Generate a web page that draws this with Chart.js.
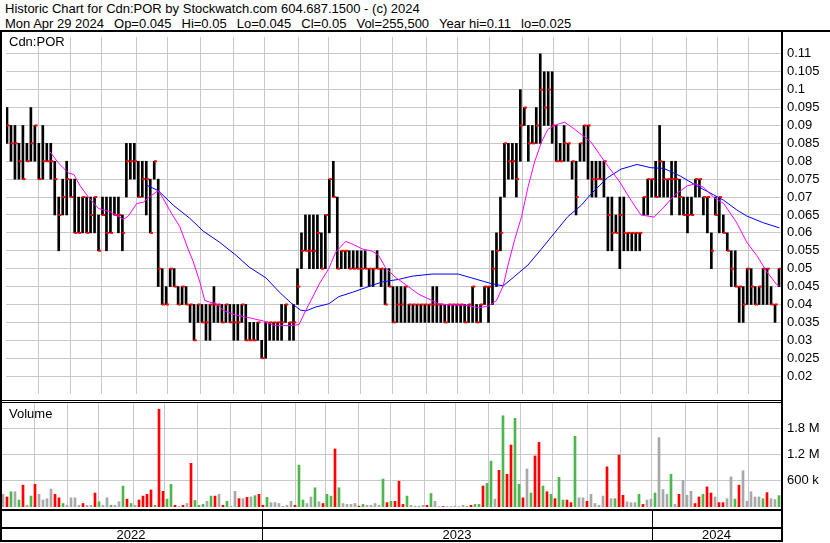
<!DOCTYPE html>
<html>
<head>
<meta charset="utf-8">
<script src="https://cdn.jsdelivr.net/npm/chart.js@4.4.1/dist/chart.umd.min.js"></script>
<style>
    body { margin: 0; background: #fff; }
    #wrap { position: relative; width: 830px; height: 543px; overflow: hidden; font-family: "Liberation Sans", Arial, sans-serif; color: #000; }
    canvas { position: absolute; left: 0; }
    .ln { position: absolute; background: #000; }
    .txt { position: absolute; font-size: 13px; white-space: nowrap; line-height: 15px; }
    .gap { display: inline-block; width: 10px; }
</style>
</head>
<body>
<div id="wrap">
    <div class="txt" style="left:5px; top:1px;">Historic Chart for Cdn:POR by Stockwatch.com 604.687.1500 - (c) 2024</div>
    <div class="txt" style="left:5px; top:16px;">Mon Apr 29 2024<span class="gap"></span>Op=0.045<span class="gap"></span>Hi=0.05<span class="gap"></span>Lo=0.045<span class="gap"></span>Cl=0.05<span class="gap"></span>Vol=255,500<span class="gap"></span>Year hi=0.11<span class="gap"></span>lo=0.025</div>
    <canvas id="priceChart" width="830" height="369" style="top:31px"></canvas>
    <canvas id="volChart" width="830" height="141" style="top:402px"></canvas>
    <div class="txt" style="left:9px; top:34px;">Cdn:POR</div>
    <div class="txt" style="left:9px; top:406px;">Volume</div>
    <div class="ln" style="left:0; top:30px; width:830px; height:2px;"></div>
    <div class="ln" style="left:0; top:30px; width:2px; height:511px;"></div>
    <div class="ln" style="left:781px; top:30px; width:2px; height:511px;"></div>
    <div class="ln" style="left:0; top:400px; width:783px; height:1px;"></div>
    <div class="ln" style="left:0; top:402px; width:783px; height:1px;"></div>
</div>
<script>
// one slot = about two trading days, May 2022 .. Apr 2024
const priceHigh = [
    0.095, 0.09, 0.09, 0.085, 0.09, 0.085, 0.095, 0.09, 0.085, 0.09,
    0.085, 0.085, 0.08, 0.07, 0.075, 0.08, 0.075, 0.075, 0.07, 0.07,
    0.07, 0.07, 0.07, 0.065, 0.07, 0.07, 0.07, 0.07, 0.07, 0.065,
    0.085, 0.085, 0.085, 0.08, 0.08, 0.08, 0.075, 0.08, 0.075, 0.05,
    0.045, 0.05, 0.05, 0.045, 0.045, 0.045, 0.04, 0.04, 0.04, 0.04,
    0.04, 0.04, 0.045, 0.04, 0.04, 0.04, 0.04, 0.04, 0.04, 0.04,
    0.04, 0.035, 0.035, 0.035, 0.03, 0.035, 0.035, 0.035, 0.035, 0.04,
    0.04, 0.035, 0.04, 0.05, 0.06, 0.065, 0.065, 0.065, 0.065, 0.06,
    0.065, 0.075, 0.08, 0.07, 0.055, 0.055, 0.055, 0.055, 0.055, 0.055,
    0.055, 0.05, 0.05, 0.055, 0.05, 0.05, 0.05, 0.045, 0.045, 0.045,
    0.045, 0.04, 0.04, 0.04, 0.04, 0.04, 0.04, 0.045, 0.045, 0.04,
    0.04, 0.04, 0.04, 0.04, 0.04, 0.04, 0.04, 0.045, 0.04, 0.04,
    0.045, 0.045, 0.055, 0.06, 0.07, 0.085, 0.085, 0.085, 0.085, 0.1,
    0.095, 0.09, 0.09, 0.095, 0.11, 0.105, 0.105, 0.105, 0.09, 0.085,
    0.09, 0.085, 0.08, 0.08, 0.085, 0.09, 0.09, 0.08, 0.08, 0.08,
    0.08, 0.07, 0.07, 0.065, 0.07, 0.07, 0.06, 0.06, 0.06, 0.06,
    0.07, 0.075, 0.075, 0.08, 0.09, 0.08, 0.075, 0.08, 0.08, 0.075,
    0.07, 0.07, 0.07, 0.075, 0.075, 0.07, 0.07, 0.06, 0.07, 0.07,
    0.065, 0.06, 0.055, 0.055, 0.045, 0.045, 0.05, 0.05, 0.045, 0.045,
    0.05, 0.05, 0.045, 0.04, 0.05
];
const priceLow = [
    0.085, 0.08, 0.075, 0.075, 0.075, 0.08, 0.08, 0.08, 0.075, 0.075,
    0.08, 0.075, 0.065, 0.055, 0.065, 0.065, 0.07, 0.06, 0.06, 0.06,
    0.06, 0.06, 0.06, 0.055, 0.065, 0.055, 0.06, 0.065, 0.06, 0.055,
    0.07, 0.075, 0.075, 0.07, 0.07, 0.065, 0.06, 0.075, 0.045, 0.04,
    0.04, 0.045, 0.045, 0.04, 0.04, 0.04, 0.035, 0.03, 0.035, 0.035,
    0.03, 0.03, 0.035, 0.035, 0.035, 0.035, 0.035, 0.03, 0.03, 0.035,
    0.03, 0.03, 0.03, 0.03, 0.025, 0.025, 0.03, 0.03, 0.03, 0.03,
    0.035, 0.03, 0.03, 0.04, 0.05, 0.055, 0.05, 0.05, 0.05, 0.05,
    0.05, 0.06, 0.07, 0.05, 0.05, 0.05, 0.05, 0.05, 0.05, 0.045,
    0.05, 0.045, 0.045, 0.05, 0.045, 0.04, 0.045, 0.035, 0.035, 0.035,
    0.035, 0.035, 0.035, 0.035, 0.035, 0.035, 0.035, 0.035, 0.035, 0.035,
    0.035, 0.035, 0.035, 0.035, 0.035, 0.035, 0.035, 0.035, 0.035, 0.035,
    0.04, 0.035, 0.04, 0.045, 0.055, 0.07, 0.075, 0.075, 0.07, 0.08,
    0.09, 0.08, 0.085, 0.085, 0.085, 0.09, 0.09, 0.085, 0.08, 0.08,
    0.08, 0.08, 0.075, 0.065, 0.08, 0.08, 0.075, 0.07, 0.07, 0.075,
    0.07, 0.055, 0.055, 0.06, 0.05, 0.055, 0.055, 0.055, 0.055, 0.055,
    0.065, 0.065, 0.07, 0.07, 0.07, 0.07, 0.07, 0.065, 0.07, 0.065,
    0.065, 0.06, 0.065, 0.07, 0.07, 0.065, 0.06, 0.05, 0.065, 0.06,
    0.06, 0.055, 0.045, 0.045, 0.035, 0.035, 0.04, 0.04, 0.04, 0.04,
    0.04, 0.04, 0.04, 0.035, 0.045
];
const priceClose = [
    0.09, 0.085, 0.085, 0.08, 0.075, 0.08, 0.085, 0.09, 0.075, 0.08,
    0.08, 0.08, 0.075, 0.065, 0.07, 0.075, 0.07, 0.06, 0.06, 0.07,
    0.06, 0.065, 0.07, 0.055, 0.065, 0.06, 0.06, 0.065, 0.065, 0.06,
    0.08, 0.08, 0.08, 0.07, 0.075, 0.075, 0.06, 0.08, 0.05, 0.04,
    0.04, 0.05, 0.045, 0.04, 0.045, 0.04, 0.04, 0.03, 0.04, 0.035,
    0.035, 0.04, 0.04, 0.04, 0.035, 0.04, 0.035, 0.035, 0.035, 0.04,
    0.03, 0.03, 0.03, 0.035, 0.025, 0.035, 0.035, 0.035, 0.035, 0.035,
    0.04, 0.035, 0.035, 0.045, 0.055, 0.055, 0.055, 0.055, 0.06, 0.05,
    0.065, 0.075, 0.07, 0.05, 0.055, 0.055, 0.05, 0.05, 0.05, 0.05,
    0.05, 0.05, 0.05, 0.05, 0.05, 0.04, 0.045, 0.035, 0.04, 0.04,
    0.045, 0.04, 0.04, 0.04, 0.04, 0.04, 0.04, 0.04, 0.04, 0.04,
    0.035, 0.04, 0.04, 0.04, 0.04, 0.035, 0.04, 0.045, 0.035, 0.04,
    0.045, 0.045, 0.05, 0.055, 0.06, 0.085, 0.08, 0.08, 0.075, 0.09,
    0.095, 0.085, 0.085, 0.09, 0.1, 0.095, 0.1, 0.09, 0.08, 0.08,
    0.085, 0.085, 0.08, 0.07, 0.085, 0.09, 0.09, 0.075, 0.075, 0.075,
    0.08, 0.065, 0.06, 0.06, 0.065, 0.06, 0.06, 0.06, 0.06, 0.06,
    0.07, 0.075, 0.075, 0.07, 0.08, 0.075, 0.075, 0.075, 0.075, 0.07,
    0.065, 0.065, 0.065, 0.075, 0.075, 0.07, 0.07, 0.055, 0.065, 0.07,
    0.06, 0.055, 0.05, 0.045, 0.045, 0.04, 0.05, 0.045, 0.04, 0.045,
    0.05, 0.05, 0.04, 0.04, 0.05
];
// volume in millions of shares; r = down, g = up, n = unchanged
const volume = [
    0.29, 0.23, 0.35, 0.35, 0.16, 0.5, 0.04, 0.25, 0.52, 0.29,
    0.16, 0.19, 0.41, 0.29, 0.21, 0.08, 0.04, 0.21, 0.21, 0.04,
    0.08, 0.04, 0.04, 0.32, 0.12, 0.04, 0.21, 0.04, 0.04, 0.12,
    0.48, 0.18, 0.08, 0.04, 0.16, 0.25, 0.29, 0.39, 0.04, 2.24,
    0.36, 0.18, 0.52, 0.04, 0.01, 0.04, 0.08, 1.0, 0.15, 0.04,
    0.06, 0.13, 0.25, 0.25, 0.29, 0.04, 0.13, 0.02, 0.36, 0.19,
    0.19, 0.22, 0.23, 0.26, 0.29, 0.04, 0.22, 0.1, 0.1, 0.08,
    0.01, 0.04, 0.13, 0.04, 0.96, 0.16, 0.08, 0.23, 0.44, 0.12,
    0.08, 0.29, 0.25, 1.33, 0.44, 0.08, 0.06, 0.06, 0.08, 0.02,
    0.06, 0.04, 0.04, 0.08, 0.04, 0.64, 0.1, 0.13, 0.13, 0.59,
    0.06, 0.25, 0.04, 0.02, 0.02, 0.04, 0.04, 0.31, 0.13, 0.01,
    0.01, 0.01, 0.01, 0.02, 0.01, 0.04, 0.01, 0.04, 0.06, 0.06,
    0.48, 0.54, 1.05, 0.18, 0.84, 2.09, 0.75, 1.42, 2.03, 0.52,
    0.21, 0.87, 0.32, 1.17, 1.48, 0.48, 0.35, 0.29, 0.19, 0.68,
    0.16, 0.16, 0.1, 1.62, 0.21, 0.21, 0.13, 0.29, 0.08, 0.04,
    0.25, 0.92, 0.19, 0.19, 1.19, 0.27, 0.12, 0.1, 0.1, 0.29,
    0.06, 0.16, 0.18, 0.32, 1.59, 0.4, 0.29, 0.75, 0.06, 0.29,
    0.61, 0.27, 0.36, 0.08, 0.23, 0.29, 0.46, 0.32, 0.23, 0.1,
    0.1, 0.19, 0.69, 0.18, 0.5, 0.83, 0.13, 0.35, 0.23, 0.23,
    0.19, 0.33, 0.19, 0.17, 0.26
];
const volumeDir = [
    'n','r','g','n','g','r','n','g','r','n',
    'n','n','n','r','r','g','n','n','n','n',
    'r','n','n','r','g','n','n','g','n','n',
    'g','r','g','n','r','r','r','r','g','r',
    'r','g','g','r','n','r','n','r','g','g',
    'g','n','g','r','n','r','g','n','n','r',
    'n','r','n','g','r','r','g','n','n','n',
    'g','n','n','r','g','g','n','n','g','n',
    'r','g','g','r','g','n','n','n','n','r',
    'g','n','n','n','n','g','r','g','r','r',
    'r','g','n','n','n','n','r','g','n','n',
    'r','n','n','n','n','n','g','r','g','g',
    'r','g','g','n','r','g','r','r','g','g',
    'r','n','g','r','r','g','r','g','r','g',
    'g','r','r','g','n','n','r','n','n','n',
    'n','r','n','g','r','r','n','n','n','g',
    'r','n','n','g','n','n','n','g','n','r',
    'n','n','n','r','r','g','r','r','n','r',
    'r','n','n','g','r','n','n','n','n','n',
    'g','r','n','n','g'
];
// moving averages (x in slots)
const pinkX = [10.7, 13.0, 15.5, 16.8, 18.4, 20.5, 23.0, 25.9, 29.3, 30.5,
    32.6, 34.3, 35.9, 38.0, 39.3, 41.3, 43.4, 45.5, 46.8, 48.4,
    49.7, 50.9, 52.6, 54.3, 57.2, 61.3, 64.7, 67.2, 71.3, 73.4,
    75.1, 77.2, 78.4, 80.9, 82.6, 85.1, 86.8, 89.3, 91.8, 93.4,
    95.1, 97.6, 100.1, 103.4, 106.8, 108.4, 110.9, 115.1, 118.4, 120.9,
    123.0, 124.7, 125.9, 127.6, 129.3, 130.9, 132.6, 134.3, 135.9, 138.0,
    140.1, 142.2, 144.3, 146.8, 150.5, 153.8, 156.8, 159.3, 162.6, 165.1,
    167.6, 170.9, 173.0, 175.1, 177.6, 180.1, 183.4, 185.9, 188.4, 190.9,
    193.4, 194.1];
const pinkY = [0.0828, 0.0794, 0.0767, 0.0763, 0.0731, 0.0699, 0.0668, 0.0659, 0.0638, 0.0647,
    0.0682, 0.0686, 0.0701, 0.0718, 0.0695, 0.0655, 0.0618, 0.0555, 0.052, 0.0465,
    0.0411, 0.0407, 0.0402, 0.0384, 0.0371, 0.0362, 0.0353, 0.0341, 0.0341, 0.0344,
    0.0384, 0.0429, 0.0456, 0.0501, 0.0546, 0.0576, 0.0569, 0.0555, 0.0549, 0.0537,
    0.0503, 0.0476, 0.0456, 0.0429, 0.0411, 0.0402, 0.0399, 0.0398, 0.0391, 0.0395,
    0.0411, 0.0452, 0.051, 0.0582, 0.0645, 0.0727, 0.0799, 0.0853, 0.0889, 0.0902,
    0.0909, 0.0893, 0.0875, 0.0853, 0.0794, 0.0745, 0.0691, 0.065, 0.0644, 0.0672,
    0.0704, 0.0731, 0.0737, 0.0727, 0.0699, 0.0682, 0.0628, 0.0574, 0.0537, 0.0492,
    0.0456, 0.0452];
const blueX = [35.1, 38.0, 41.8, 45.9, 49.3, 53.4, 57.6, 60.9, 65.1, 68.4,
    71.3, 73.8, 75.1, 77.6, 80.9, 83.4, 86.8, 90.1, 94.3, 98.4,
    101.8, 106.8, 113.4, 116.8, 121.8, 124.7, 127.6, 130.9, 134.3, 137.6,
    140.9, 144.3, 146.8, 150.9, 154.3, 158.3, 161.8, 165.1, 169.3, 173.4,
    177.6, 180.1, 183.4, 185.9, 190.1, 194.1];
const blueY = [0.0733, 0.0718, 0.0677, 0.0641, 0.0605, 0.0574, 0.0537, 0.0504, 0.0474, 0.0435,
    0.0405, 0.0384, 0.0382, 0.0393, 0.0402, 0.0422, 0.0434, 0.0447, 0.0463, 0.047,
    0.0479, 0.0485, 0.0485, 0.0474, 0.0458, 0.0452, 0.0479, 0.051, 0.0555, 0.06,
    0.0645, 0.0677, 0.0709, 0.0754, 0.0778, 0.0791, 0.0782, 0.078, 0.0758, 0.0731,
    0.0706, 0.0691, 0.0664, 0.0647, 0.0628, 0.0614];
// month boundaries (slot units) and year boundaries
const monthTicks = [7.83, 16.08, 23.83, 32.58, 40.33, 48.68, 56.93, 64.68, 73.18, 80.68,
    88.83, 96.93, 105.33, 113.18, 121.33, 129.43, 137.33, 146.18, 154.25, 162.18,
    170.68, 178.58, 186.33];
const yearStarts = [64.68, 162.18];
const yearLabels = ['2022', '2023', '2024'];
const priceTicks = [0.02, 0.025, 0.03, 0.035, 0.04, 0.045, 0.05, 0.055, 0.06, 0.065,
    0.07, 0.075, 0.08, 0.085, 0.09, 0.095, 0.1, 0.105, 0.11];
const volumeTicks = [0.6, 1.2, 1.8];

const FONT = '"Liberation Sans", Arial, sans-serif';
const GRID = '#c8c8c8';
const xMin = -0.25, xMax = 194.5;

const xAxis = (h) => ({
    type: 'linear',
    min: xMin,
    max: xMax,
    offset: false,
    grid: { color: GRID, drawTicks: false, offset: false },
    border: { display: false },
    ticks: { display: false },
    afterBuildTicks: s => { s.ticks = monthTicks.map(v => ({ value: v })); },
    afterFit: s => { s.height = h; s.paddingLeft = 0; s.paddingRight = 0; }
});

const yAxis = (min, max, ticks, fmt) => ({
    position: 'right',
    min: min,
    max: max,
    grid: { color: GRID, drawTicks: false },
    border: { display: false },
    ticks: {
        color: '#000',
        padding: 6,
        font: { family: FONT, size: 13 },
        callback: fmt
    },
    afterBuildTicks: s => { s.ticks = ticks.map(v => ({ value: v })); },
    afterFit: s => { s.width = 49; s.paddingTop = 0; s.paddingBottom = 0; }
});

new Chart(document.getElementById('priceChart'), {
    type: 'bar',
    data: {
        datasets: [
            {
                type: 'line',
                data: pinkX.map((x, i) => ({ x, y: pinkY[i] })),
                borderColor: '#ff00ff',
                borderWidth: 1,
                pointRadius: 0,
                tension: 0,
                order: 1
            },
            {
                type: 'line',
                data: blueX.map((x, i) => ({ x, y: blueY[i] })),
                borderColor: '#0000ff',
                borderWidth: 1,
                pointRadius: 0,
                tension: 0,
                order: 1
            },
            {
                type: 'line',
                showLine: false,
                data: priceClose.map((c, i) => ({ x: i + 0.3, y: c })),
                pointStyle: 'line',
                pointRadius: 1.5,
                borderWidth: 2,
                borderColor: '#ff0000',
                order: 2
            },
            {
                type: 'bar',
                data: priceHigh.map((h, i) => ({ x: i, y: [priceLow[i], h] })),
                backgroundColor: '#000',
                barThickness: 2,
                minBarLength: 1,
                grouped: false,
                order: 3
            }
        ]
    },
    options: {
        responsive: false,
        animation: false,
        events: [],
        layout: { padding: { left: 2, right: 0, top: 0, bottom: 0 } },
        plugins: { legend: { display: false }, tooltip: { enabled: false } },
        scales: {
            x: xAxis(0),
            y: yAxis(0.015, 0.1147, priceTicks, v => String(+v.toFixed(3)))
        }
    }
});

const volColors = { r: '#ff0000', g: '#4cb84c', n: '#a8a8a8' };

const yearStrip = {
    id: 'yearStrip',
    afterDraw(chart) {
        const ctx = chart.ctx;
        const xs = chart.scales.x;
        const right = chart.chartArea.right;
        ctx.save();
        ctx.fillStyle = '#000';
        ctx.fillRect(0, 107, right + 2, 2);
        ctx.fillRect(0, 125, right + 2, 2);
        ctx.fillRect(0, 138, right + 2, 2);
        const bounds = [0, ...yearStarts.map(v => Math.round(xs.getPixelForValue(v))), right];
        yearStarts.forEach((v, i) => ctx.fillRect(bounds[i + 1], 107, 1, 33));
        ctx.font = '13px ' + FONT;
        ctx.textAlign = 'center';
        ctx.textBaseline = 'middle';
        yearLabels.forEach((t, i) => ctx.fillText(t, (bounds[i] + bounds[i + 1]) / 2, 133));
        ctx.restore();
    }
};

new Chart(document.getElementById('volChart'), {
    type: 'bar',
    data: {
        datasets: [{
            data: volume.map((v, i) => ({ x: i, y: v })),
            backgroundColor: volumeDir.map(d => volColors[d]),
            barThickness: 2,
            grouped: false
        }]
    },
    options: {
        responsive: false,
        animation: false,
        events: [],
        layout: { padding: { left: 2, right: 0, top: 0, bottom: 0 } },
        plugins: { legend: { display: false }, tooltip: { enabled: false } },
        scales: {
            x: xAxis(36),
            y: yAxis(0, 2.405, volumeTicks, v => v < 1 ? Math.round(v * 1000) + ' k' : v.toFixed(1) + ' M')
        }
    },
    plugins: [yearStrip]
});
</script>
</body>
</html>
